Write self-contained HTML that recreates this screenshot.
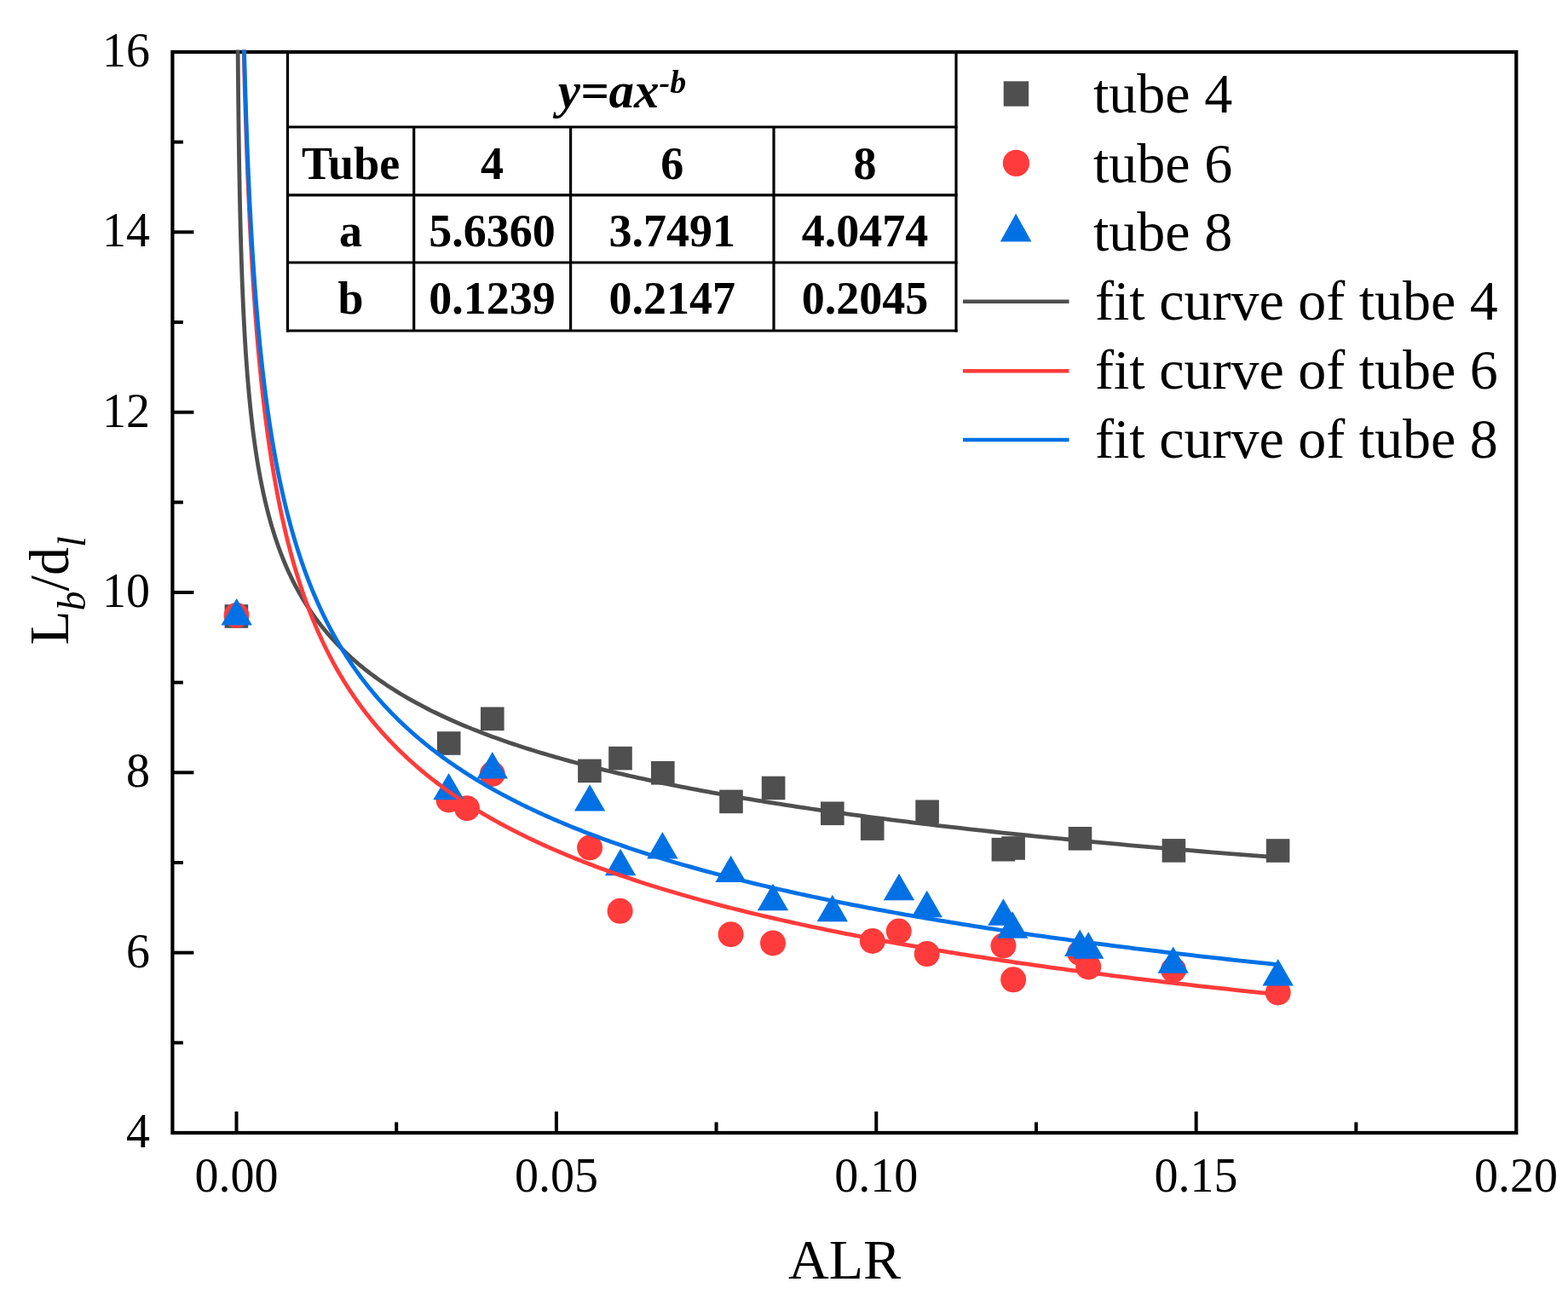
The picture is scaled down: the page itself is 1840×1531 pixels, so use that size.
<!DOCTYPE html>
<html><head><meta charset="utf-8"><title>Lb/dl vs ALR</title>
<style>html,body{margin:0;padding:0;background:#fff;} svg{display:block;}</style>
</head><body>
<svg width="1840" height="1531" viewBox="0 0 1840 1531">
<rect width="1840" height="1531" fill="#fff"/>
<defs><clipPath id="pc"><rect x="202.4" y="61.0" width="1576.9" height="1268.0"/></clipPath><clipPath id="pc2"><rect x="202.4" y="58.6" width="1576.9" height="1270.4"/></clipPath></defs>
<g clip-path="url(#pc)"><rect x="263.60" y="709.20" width="27.60" height="27.60" fill="#4f4f4f"/><rect x="512.90" y="858.20" width="27.60" height="27.60" fill="#4f4f4f"/><rect x="564.00" y="829.50" width="27.60" height="27.60" fill="#4f4f4f"/><rect x="678.10" y="890.60" width="27.60" height="27.60" fill="#4f4f4f"/><rect x="714.20" y="875.80" width="27.60" height="27.60" fill="#4f4f4f"/><rect x="764.00" y="893.00" width="27.60" height="27.60" fill="#4f4f4f"/><rect x="844.20" y="926.60" width="27.60" height="27.60" fill="#4f4f4f"/><rect x="893.80" y="910.70" width="27.60" height="27.60" fill="#4f4f4f"/><rect x="963.00" y="940.50" width="27.60" height="27.60" fill="#4f4f4f"/><rect x="1009.90" y="958.30" width="27.60" height="27.60" fill="#4f4f4f"/><rect x="1074.30" y="938.50" width="27.60" height="27.60" fill="#4f4f4f"/><rect x="1163.60" y="982.90" width="27.60" height="27.60" fill="#4f4f4f"/><rect x="1175.30" y="981.20" width="27.60" height="27.60" fill="#4f4f4f"/><rect x="1253.70" y="970.00" width="27.60" height="27.60" fill="#4f4f4f"/><rect x="1363.60" y="984.10" width="27.60" height="27.60" fill="#4f4f4f"/><rect x="1485.80" y="984.20" width="27.60" height="27.60" fill="#4f4f4f"/><circle cx="277.50" cy="722.00" r="15.00" fill="#ff3b3b"/><circle cx="526.50" cy="938.50" r="15.00" fill="#ff3b3b"/><circle cx="548.00" cy="948.20" r="15.00" fill="#ff3b3b"/><circle cx="577.80" cy="908.00" r="15.00" fill="#ff3b3b"/><circle cx="692.10" cy="994.50" r="15.00" fill="#ff3b3b"/><circle cx="727.60" cy="1068.80" r="15.00" fill="#ff3b3b"/><circle cx="857.60" cy="1096.20" r="15.00" fill="#ff3b3b"/><circle cx="907.00" cy="1106.40" r="15.00" fill="#ff3b3b"/><circle cx="1023.80" cy="1104.00" r="15.00" fill="#ff3b3b"/><circle cx="1054.70" cy="1092.50" r="15.00" fill="#ff3b3b"/><circle cx="1087.70" cy="1119.10" r="15.00" fill="#ff3b3b"/><circle cx="1177.40" cy="1109.50" r="15.00" fill="#ff3b3b"/><circle cx="1189.10" cy="1149.30" r="15.00" fill="#ff3b3b"/><circle cx="1267.20" cy="1118.00" r="15.00" fill="#ff3b3b"/><circle cx="1277.20" cy="1134.40" r="15.00" fill="#ff3b3b"/><circle cx="1377.00" cy="1137.80" r="15.00" fill="#ff3b3b"/><circle cx="1499.70" cy="1164.50" r="15.00" fill="#ff3b3b"/><polygon points="277.70,702.07 295.90,733.47 259.50,733.47" fill="#0071e5"/><polygon points="526.60,906.97 544.80,938.37 508.40,938.37" fill="#0071e5"/><polygon points="577.80,882.07 596.00,913.47 559.60,913.47" fill="#0071e5"/><polygon points="692.10,920.17 710.30,951.57 673.90,951.57" fill="#0071e5"/><polygon points="728.10,995.87 746.30,1027.27 709.90,1027.27" fill="#0071e5"/><polygon points="777.40,976.07 795.60,1007.47 759.20,1007.47" fill="#0071e5"/><polygon points="857.60,1003.67 875.80,1035.07 839.40,1035.07" fill="#0071e5"/><polygon points="907.00,1036.77 925.20,1068.17 888.80,1068.17" fill="#0071e5"/><polygon points="976.80,1049.87 995.00,1081.27 958.60,1081.27" fill="#0071e5"/><polygon points="1055.00,1024.77 1073.20,1056.17 1036.80,1056.17" fill="#0071e5"/><polygon points="1087.70,1044.77 1105.90,1076.17 1069.50,1076.17" fill="#0071e5"/><polygon points="1177.40,1054.27 1195.60,1085.67 1159.20,1085.67" fill="#0071e5"/><polygon points="1188.20,1069.37 1206.40,1100.77 1170.00,1100.77" fill="#0071e5"/><polygon points="1267.20,1090.57 1285.40,1121.97 1249.00,1121.97" fill="#0071e5"/><polygon points="1277.20,1093.37 1295.40,1124.77 1259.00,1124.77" fill="#0071e5"/><polygon points="1376.70,1110.47 1394.90,1141.87 1358.50,1141.87" fill="#0071e5"/><polygon points="1499.70,1125.07 1517.90,1156.47 1481.50,1156.47" fill="#0071e5"/></g>
<g stroke="#000" stroke-width="3.2"><line x1="337.5" y1="61.0" x2="337.5" y2="389.5"/><line x1="1122.0" y1="61.0" x2="1122.0" y2="389.5"/><line x1="336.0" y1="149.0" x2="1123.5" y2="149.0"/><line x1="336.0" y1="228.8" x2="1123.5" y2="228.8"/><line x1="336.0" y1="308.0" x2="1123.5" y2="308.0"/><line x1="336.0" y1="388.0" x2="1123.5" y2="388.0"/><line x1="485.7" y1="149.0" x2="485.7" y2="388.0"/><line x1="669.6" y1="149.0" x2="669.6" y2="388.0"/><line x1="908.0" y1="149.0" x2="908.0" y2="388.0"/></g>
<g font-family="Liberation Serif, serif" font-weight="bold" font-size="54" text-anchor="middle" fill="#000">
<text x="730" y="126" font-style="italic" font-size="59">y=ax<tspan font-size="38" dy="-17">-b</tspan></text>
<text x="411.6" y="209.8">Tube</text>
<text x="577.6" y="209.8">4</text>
<text x="788.8" y="209.8">6</text>
<text x="1015.0" y="209.8">8</text>
<text x="411.6" y="288.5">a</text>
<text x="577.6" y="288.5">5.6360</text>
<text x="788.8" y="288.5">3.7491</text>
<text x="1015.0" y="288.5">4.0474</text>
<text x="411.6" y="368.0">b</text>
<text x="577.6" y="368.0">0.1239</text>
<text x="788.8" y="368.0">0.2147</text>
<text x="1015.0" y="368.0">0.2045</text>
</g>
<rect x="202.4" y="61.0" width="1576.9" height="1268.0" fill="none" stroke="#000" stroke-width="4.2"/>
<g clip-path="url(#pc2)" fill="none" stroke-width="4.8" stroke-linejoin="round">
<path d="M279.12,56.73 L279.14,59.05 L279.16,61.37 L279.17,63.68 L279.19,65.99 L279.21,68.29 L279.23,70.59 L279.25,72.89 L279.27,75.19 L279.29,77.48 L279.31,79.77 L279.33,82.05 L279.35,84.34 L279.37,86.62 L279.39,88.89 L279.41,91.17 L279.43,93.44 L279.45,95.71 L279.48,97.97 L279.50,100.23 L279.52,102.49 L279.54,104.75 L279.56,107.00 L279.59,109.25 L279.61,111.49 L279.63,113.74 L279.66,115.98 L279.68,118.21 L279.71,120.45 L279.73,122.68 L279.76,124.90 L279.78,127.13 L279.81,129.35 L279.83,131.57 L279.86,133.78 L279.88,136.00 L279.91,138.21 L279.94,140.41 L279.96,142.62 L279.99,144.82 L280.02,147.01 L280.05,149.21 L280.08,151.40 L280.10,153.59 L280.13,155.77 L280.16,157.95 L280.19,160.13 L280.22,162.31 L280.25,164.48 L280.28,166.65 L280.31,168.82 L280.34,170.99 L280.38,173.15 L280.41,175.31 L280.44,177.46 L280.47,179.61 L280.51,181.76 L280.54,183.91 L280.57,186.06 L280.61,188.20 L280.64,190.33 L280.68,192.47 L280.71,194.60 L280.75,196.73 L280.78,198.86 L280.82,200.98 L280.86,203.10 L280.89,205.22 L280.93,207.33 L280.97,209.44 L281.01,211.55 L281.05,213.66 L281.09,215.76 L281.13,217.86 L281.17,219.96 L281.21,222.06 L281.25,224.15 L281.29,226.24 L281.33,228.32 L281.38,230.40 L281.42,232.48 L281.46,234.56 L281.51,236.64 L281.55,238.71 L281.60,240.78 L281.64,242.84 L281.69,244.91 L281.73,246.97 L281.78,249.02 L281.83,251.08 L281.88,253.13 L281.92,255.18 L281.97,257.23 L282.02,259.27 L282.07,261.31 L282.12,263.35 L282.18,265.38 L282.23,267.42 L282.28,269.45 L282.33,271.47 L282.39,273.50 L282.44,275.52 L282.50,277.54 L282.55,279.55 L282.61,281.57 L282.66,283.58 L282.72,285.58 L282.78,287.59 L282.84,289.59 L282.90,291.59 L282.96,293.59 L283.02,295.58 L283.08,297.57 L283.14,299.56 L283.20,301.55 L283.27,303.53 L283.33,305.51 L283.40,307.49 L283.46,309.46 L283.53,311.43 L283.59,313.40 L283.66,315.37 L283.73,317.33 L283.80,319.30 L283.87,321.25 L283.94,323.21 L284.01,325.16 L284.08,327.11 L284.16,329.06 L284.23,331.01 L284.31,332.95 L284.38,334.89 L284.46,336.83 L284.54,338.76 L284.61,340.70 L284.69,342.62 L284.77,344.55 L284.85,346.48 L284.94,348.40 L285.02,350.32 L285.10,352.23 L285.19,354.15 L285.27,356.06 L285.36,357.97 L285.44,359.87 L285.53,361.77 L285.62,363.68 L285.71,365.57 L285.80,367.47 L285.90,369.36 L285.99,371.25 L286.08,373.14 L286.18,375.02 L286.27,376.91 L286.37,378.79 L286.47,380.66 L286.57,382.54 L286.67,384.41 L286.77,386.28 L286.88,388.15 L286.98,390.01 L287.09,391.87 L287.19,393.73 L287.30,395.59 L287.41,397.45 L287.52,399.30 L287.63,401.15 L287.74,402.99 L287.86,404.84 L287.97,406.68 L288.09,408.52 L288.20,410.36 L288.32,412.19 L288.44,414.02 L288.57,415.85 L288.69,417.68 L288.81,419.50 L288.94,421.32 L289.06,423.14 L289.19,424.96 L289.32,426.77 L289.45,428.58 L289.59,430.39 L289.72,432.20 L289.86,434.01 L289.99,435.81 L290.13,437.61 L290.27,439.40 L290.42,441.20 L290.56,442.99 L290.70,444.78 L290.85,446.57 L291.00,448.35 L291.15,450.13 L291.30,451.91 L291.45,453.69 L291.61,455.47 L291.77,457.24 L291.92,459.01 L292.08,460.78 L292.25,462.54 L292.41,464.30 L292.57,466.06 L292.74,467.82 L292.91,469.58 L293.08,471.33 L293.26,473.08 L293.43,474.83 L293.61,476.58 L293.79,478.32 L293.97,480.06 L294.15,481.80 L294.34,483.54 L294.52,485.27 L294.71,487.00 L294.90,488.73 L295.10,490.46 L295.29,492.18 L295.49,493.91 L295.69,495.63 L295.89,497.34 L296.09,499.06 L296.30,500.77 L296.51,502.48 L296.72,504.19 L296.93,505.90 L297.15,507.60 L297.37,509.30 L297.59,511.00 L297.81,512.70 L298.04,514.39 L298.27,516.08 L298.50,517.77 L298.73,519.46 L298.97,521.14 L299.20,522.83 L299.45,524.51 L299.69,526.19 L299.94,527.86 L300.18,529.53 L300.44,531.21 L300.69,532.88 L300.95,534.54 L301.21,536.21 L301.47,537.87 L301.74,539.53 L302.01,541.19 L302.28,542.84 L302.56,544.49 L302.83,546.14 L303.11,547.79 L303.40,549.44 L303.69,551.08 L303.98,552.73 L304.27,554.36 L304.57,556.00 L304.87,557.64 L305.17,559.27 L305.48,560.90 L305.79,562.53 L306.11,564.15 L306.42,565.78 L306.74,567.40 L307.07,569.02 L307.40,570.64 L307.73,572.25 L308.07,573.86 L308.40,575.48 L308.75,577.08 L309.10,578.69 L309.45,580.29 L309.80,581.90 L310.16,583.50 L310.52,585.09 L310.89,586.69 L311.26,588.28 L311.63,589.87 L312.01,591.46 L312.40,593.05 L312.78,594.63 L313.18,596.21 L313.57,597.79 L313.97,599.37 L314.38,600.95 L314.79,602.52 L315.20,604.09 L315.62,605.66 L316.04,607.23 L316.47,608.79 L316.90,610.36 L317.34,611.92 L317.78,613.48 L318.23,615.03 L318.68,616.59 L319.14,618.14 L319.60,619.69 L320.07,621.24 L320.54,622.78 L321.02,624.33 L321.51,625.87 L321.99,627.41 L322.49,628.94 L322.99,630.48 L323.49,632.01 L324.00,633.54 L324.52,635.07 L325.04,636.60 L325.57,638.13 L326.11,639.65 L326.64,641.17 L327.19,642.69 L327.74,644.20 L328.30,645.72 L328.86,647.23 L329.44,648.74 L330.01,650.25 L330.60,651.75 L331.18,653.26 L331.78,654.76 L332.38,656.26 L332.99,657.76 L333.61,659.25 L334.23,660.75 L334.86,662.24 L335.50,663.73 L336.14,665.22 L336.80,666.70 L337.45,668.19 L338.12,669.67 L338.79,671.15 L339.47,672.63 L340.16,674.10 L340.86,675.58 L341.56,677.05 L342.27,678.52 L342.99,679.98 L343.72,681.45 L344.45,682.91 L345.20,684.37 L345.95,685.83 L346.71,687.29 L347.48,688.75 L348.26,690.20 L349.04,691.65 L349.84,693.10 L350.64,694.55 L351.45,695.99 L352.27,697.44 L353.10,698.88 L353.94,700.32 L354.79,701.76 L355.65,703.19 L356.52,704.63 L357.40,706.06 L358.28,707.49 L359.18,708.92 L360.09,710.34 L361.00,711.77 L361.93,713.19 L362.87,714.61 L363.82,716.03 L364.78,717.44 L365.75,718.86 L366.73,720.27 L367.72,721.68 L368.72,723.09 L369.73,724.49 L370.76,725.90 L371.79,727.30 L372.84,728.70 L373.90,730.10 L374.97,731.50 L376.05,732.89 L377.14,734.29 L378.25,735.68 L379.37,737.07 L380.50,738.45 L381.64,739.84 L382.80,741.22 L383.97,742.61 L385.15,743.99 L386.35,745.36 L387.56,746.74 L388.78,748.11 L390.02,749.49 L391.27,750.86 L392.53,752.22 L393.81,753.59 L395.10,754.96 L396.40,756.32 L397.72,757.68 L399.06,759.04 L400.41,760.40 L401.77,761.75 L403.15,763.11 L404.55,764.46 L405.96,765.81 L407.39,767.16 L408.83,768.50 L410.29,769.85 L411.76,771.19 L413.25,772.53 L414.76,773.87 L416.29,775.21 L417.83,776.54 L419.39,777.87 L420.96,779.21 L422.55,780.54 L424.17,781.86 L425.79,783.19 L427.44,784.51 L429.11,785.84 L430.79,787.16 L432.49,788.48 L434.21,789.79 L435.95,791.11 L437.71,792.42 L439.49,793.73 L441.29,795.04 L443.11,796.35 L444.95,797.66 L446.81,798.96 L448.69,800.27 L450.59,801.57 L452.51,802.87 L454.46,804.16 L456.42,805.46 L458.41,806.75 L460.42,808.05 L462.45,809.34 L464.50,810.62 L466.58,811.91 L468.68,813.20 L470.80,814.48 L472.95,815.76 L475.12,817.04 L477.32,818.32 L479.53,819.60 L481.78,820.87 L484.05,822.14 L486.34,823.41 L488.66,824.68 L491.00,825.95 L493.38,827.22 L495.77,828.48 L498.20,829.74 L500.65,831.00 L503.13,832.26 L505.63,833.52 L508.17,834.78 L510.73,836.03 L513.32,837.28 L515.94,838.53 L518.58,839.78 L521.26,841.03 L523.97,842.27 L526.71,843.52 L529.47,844.76 L532.27,846.00 L535.10,847.24 L537.96,848.47 L540.85,849.71 L543.78,850.94 L546.74,852.17 L549.73,853.40 L552.75,854.63 L555.81,855.86 L558.90,857.08 L562.02,858.31 L565.18,859.53 L568.38,860.75 L571.61,861.97 L574.87,863.18 L578.18,864.40 L581.51,865.61 L584.89,866.82 L588.30,868.03 L591.76,869.24 L595.25,870.45 L598.78,871.65 L602.34,872.86 L605.95,874.06 L609.60,875.26 L613.29,876.46 L617.02,877.66 L620.79,878.85 L624.60,880.04 L628.45,881.24 L632.35,882.43 L636.29,883.61 L640.28,884.80 L644.30,885.99 L648.38,887.17 L652.50,888.35 L656.66,889.53 L660.87,890.71 L665.13,891.89 L669.43,893.07 L673.79,894.24 L678.19,895.41 L682.64,896.58 L687.14,897.75 L691.69,898.92 L696.29,900.09 L700.94,901.25 L705.64,902.41 L710.39,903.58 L715.20,904.73 L720.06,905.89 L724.98,907.05 L729.95,908.20 L734.97,909.36 L740.05,910.51 L745.19,911.66 L750.38,912.81 L755.63,913.96 L760.94,915.10 L766.31,916.25 L771.74,917.39 L777.23,918.53 L782.78,919.67 L788.39,920.81 L794.06,921.94 L799.80,923.08 L805.60,924.21 L811.47,925.34 L817.40,926.47 L823.39,927.60 L829.45,928.73 L835.58,929.85 L841.78,930.98 L848.05,932.10 L854.39,933.22 L860.79,934.34 L867.27,935.46 L873.82,936.57 L880.44,937.69 L887.14,938.80 L893.91,939.91 L900.75,941.02 L907.68,942.13 L914.67,943.24 L921.75,944.34 L928.90,945.45 L936.14,946.55 L943.45,947.65 L950.85,948.75 L958.33,949.85 L965.89,950.94 L973.53,952.04 L981.26,953.13 L989.08,954.22 L996.98,955.31 L1004.97,956.40 L1013.05,957.49 L1021.22,958.58 L1029.48,959.66 L1037.83,960.74 L1046.27,961.83 L1054.81,962.91 L1063.44,963.98 L1072.17,965.06 L1081.00,966.14 L1089.92,967.21 L1098.94,968.28 L1108.06,969.36 L1117.29,970.43 L1126.61,971.49 L1136.04,972.56 L1145.58,973.63 L1155.22,974.69 L1164.97,975.75 L1174.82,976.81 L1184.79,977.87 L1194.86,978.93 L1205.05,979.99 L1215.35,981.04 L1225.77,982.10 L1236.30,983.15 L1246.95,984.20 L1257.71,985.25 L1268.60,986.30 L1279.60,987.34 L1290.73,988.39 L1301.98,989.43 L1313.36,990.48 L1324.87,991.52 L1336.50,992.56 L1348.26,993.59 L1360.15,994.63 L1372.17,995.67 L1384.33,996.70 L1396.62,997.73 L1409.05,998.76 L1421.62,999.79 L1434.32,1000.82 L1447.17,1001.85 L1460.16,1002.87 L1473.29,1003.90 L1486.57,1004.92 L1500.00,1005.94" stroke="#4f4f4f"/>
<path d="M286.11,56.73 L286.19,59.74 L286.26,62.73 L286.33,65.73 L286.40,68.71 L286.48,71.69 L286.55,74.67 L286.63,77.64 L286.70,80.61 L286.78,83.57 L286.86,86.52 L286.93,89.47 L287.01,92.42 L287.09,95.36 L287.17,98.29 L287.25,101.22 L287.33,104.14 L287.41,107.06 L287.50,109.98 L287.58,112.88 L287.66,115.79 L287.75,118.69 L287.83,121.58 L287.92,124.47 L288.00,127.35 L288.09,130.23 L288.18,133.10 L288.27,135.97 L288.36,138.83 L288.45,141.69 L288.54,144.54 L288.63,147.39 L288.72,150.23 L288.81,153.06 L288.91,155.90 L289.00,158.72 L289.10,161.55 L289.19,164.36 L289.29,167.18 L289.39,169.98 L289.49,172.78 L289.59,175.58 L289.69,178.37 L289.79,181.16 L289.89,183.94 L289.99,186.72 L290.10,189.49 L290.20,192.26 L290.31,195.02 L290.41,197.78 L290.52,200.53 L290.63,203.28 L290.74,206.02 L290.85,208.76 L290.96,211.50 L291.07,214.22 L291.18,216.95 L291.29,219.67 L291.41,222.38 L291.52,225.09 L291.64,227.80 L291.76,230.49 L291.87,233.19 L291.99,235.88 L292.11,238.57 L292.24,241.25 L292.36,243.92 L292.48,246.59 L292.61,249.26 L292.73,251.92 L292.86,254.58 L292.98,257.23 L293.11,259.88 L293.24,262.52 L293.37,265.16 L293.50,267.79 L293.64,270.42 L293.77,273.04 L293.91,275.66 L294.04,278.28 L294.18,280.89 L294.32,283.50 L294.46,286.10 L294.60,288.69 L294.74,291.28 L294.88,293.87 L295.03,296.45 L295.17,299.03 L295.32,301.61 L295.47,304.17 L295.61,306.74 L295.76,309.30 L295.92,311.85 L296.07,314.40 L296.22,316.95 L296.38,319.49 L296.53,322.03 L296.69,324.56 L296.85,327.09 L297.01,329.61 L297.17,332.13 L297.34,334.65 L297.50,337.16 L297.67,339.67 L297.83,342.17 L298.00,344.66 L298.17,347.16 L298.35,349.64 L298.52,352.13 L298.69,354.61 L298.87,357.08 L299.05,359.55 L299.22,362.02 L299.40,364.48 L299.59,366.94 L299.77,369.39 L299.95,371.84 L300.14,374.29 L300.33,376.73 L300.52,379.16 L300.71,381.59 L300.90,384.02 L301.09,386.44 L301.29,388.86 L301.49,391.28 L301.69,393.69 L301.89,396.09 L302.09,398.49 L302.29,400.89 L302.50,403.28 L302.71,405.67 L302.91,408.06 L303.13,410.44 L303.34,412.81 L303.55,415.19 L303.77,417.55 L303.99,419.92 L304.21,422.28 L304.43,424.63 L304.65,426.98 L304.88,429.33 L305.10,431.67 L305.33,434.01 L305.56,436.34 L305.80,438.67 L306.03,441.00 L306.27,443.32 L306.50,445.64 L306.75,447.95 L306.99,450.26 L307.23,452.57 L307.48,454.87 L307.73,457.17 L307.98,459.46 L308.23,461.75 L308.49,464.04 L308.74,466.32 L309.00,468.59 L309.26,470.87 L309.53,473.14 L309.79,475.40 L310.06,477.66 L310.33,479.92 L310.60,482.17 L310.88,484.42 L311.15,486.67 L311.43,488.91 L311.71,491.14 L312.00,493.38 L312.28,495.61 L312.57,497.83 L312.86,500.05 L313.16,502.27 L313.45,504.48 L313.75,506.69 L314.05,508.90 L314.35,511.10 L314.66,513.30 L314.97,515.49 L315.28,517.68 L315.59,519.87 L315.91,522.05 L316.23,524.23 L316.55,526.40 L316.87,528.57 L317.20,530.74 L317.53,532.90 L317.86,535.06 L318.19,537.22 L318.53,539.37 L318.87,541.52 L319.21,543.66 L319.56,545.80 L319.91,547.94 L320.26,550.07 L320.62,552.20 L320.97,554.32 L321.33,556.45 L321.70,558.56 L322.06,560.68 L322.43,562.79 L322.81,564.89 L323.18,567.00 L323.56,569.09 L323.94,571.19 L324.33,573.28 L324.72,575.37 L325.11,577.45 L325.50,579.53 L325.90,581.61 L326.30,583.68 L326.71,585.75 L327.11,587.82 L327.53,589.88 L327.94,591.94 L328.36,593.99 L328.78,596.04 L329.21,598.09 L329.63,600.13 L330.07,602.17 L330.50,604.21 L330.94,606.24 L331.39,608.27 L331.83,610.30 L332.28,612.32 L332.74,614.34 L333.20,616.35 L333.66,618.36 L334.12,620.37 L334.59,622.38 L335.07,624.38 L335.54,626.37 L336.02,628.37 L336.51,630.36 L337.00,632.34 L337.49,634.33 L337.99,636.31 L338.49,638.28 L339.00,640.25 L339.51,642.22 L340.02,644.19 L340.54,646.15 L341.06,648.11 L341.59,650.06 L342.12,652.02 L342.66,653.96 L343.20,655.91 L343.74,657.85 L344.29,659.79 L344.85,661.72 L345.40,663.65 L345.97,665.58 L346.54,667.50 L347.11,669.43 L347.69,671.34 L348.27,673.26 L348.85,675.17 L349.45,677.07 L350.04,678.98 L350.64,680.88 L351.25,682.78 L351.86,684.67 L352.48,686.56 L353.10,688.45 L353.73,690.33 L354.36,692.21 L355.00,694.09 L355.64,695.96 L356.29,697.83 L356.94,699.70 L357.60,701.56 L358.26,703.42 L358.93,705.28 L359.61,707.13 L360.29,708.98 L360.98,710.83 L361.67,712.67 L362.37,714.52 L363.07,716.35 L363.78,718.19 L364.50,720.02 L365.22,721.85 L365.95,723.67 L366.68,725.49 L367.42,727.31 L368.16,729.12 L368.92,730.94 L369.67,732.74 L370.44,734.55 L371.21,736.35 L371.99,738.15 L372.77,739.94 L373.56,741.74 L374.36,743.53 L375.16,745.31 L375.97,747.10 L376.79,748.87 L377.61,750.65 L378.44,752.42 L379.28,754.20 L380.12,755.96 L380.97,757.73 L381.83,759.49 L382.70,761.24 L383.57,763.00 L384.45,764.75 L385.33,766.50 L386.23,768.24 L387.13,769.99 L388.04,771.73 L388.96,773.46 L389.88,775.20 L390.81,776.92 L391.75,778.65 L392.70,780.38 L393.65,782.10 L394.62,783.81 L395.59,785.53 L396.57,787.24 L397.56,788.95 L398.55,790.65 L399.56,792.36 L400.57,794.06 L401.59,795.75 L402.62,797.45 L403.66,799.14 L404.70,800.82 L405.76,802.51 L406.82,804.19 L407.89,805.87 L408.97,807.54 L410.06,809.22 L411.16,810.89 L412.27,812.55 L413.39,814.22 L414.52,815.88 L415.65,817.54 L416.80,819.19 L417.95,820.84 L419.12,822.49 L420.29,824.14 L421.48,825.78 L422.67,827.42 L423.87,829.06 L425.09,830.69 L426.31,832.32 L427.55,833.95 L428.79,835.58 L430.05,837.20 L431.31,838.82 L432.59,840.44 L433.87,842.05 L435.17,843.67 L436.48,845.27 L437.79,846.88 L439.12,848.48 L440.46,850.08 L441.82,851.68 L443.18,853.27 L444.55,854.87 L445.94,856.45 L447.33,858.04 L448.74,859.62 L450.16,861.20 L451.59,862.78 L453.04,864.36 L454.49,865.93 L455.96,867.50 L457.44,869.06 L458.93,870.63 L460.44,872.19 L461.96,873.75 L463.49,875.30 L465.03,876.85 L466.58,878.40 L468.15,879.95 L469.73,881.50 L471.33,883.04 L472.93,884.58 L474.55,886.11 L476.19,887.65 L477.84,889.18 L479.50,890.70 L481.17,892.23 L482.86,893.75 L484.57,895.27 L486.28,896.79 L488.01,898.30 L489.76,899.82 L491.52,901.32 L493.29,902.83 L495.08,904.33 L496.89,905.84 L498.71,907.33 L500.54,908.83 L502.39,910.32 L504.26,911.81 L506.14,913.30 L508.03,914.79 L509.95,916.27 L511.87,917.75 L513.82,919.23 L515.78,920.70 L517.75,922.17 L519.74,923.64 L521.75,925.11 L523.78,926.57 L525.82,928.04 L527.88,929.50 L529.96,930.95 L532.05,932.41 L534.16,933.86 L536.29,935.31 L538.44,936.75 L540.60,938.20 L542.78,939.64 L544.98,941.08 L547.20,942.51 L549.44,943.95 L551.69,945.38 L553.97,946.81 L556.26,948.23 L558.57,949.65 L560.90,951.08 L563.25,952.49 L565.62,953.91 L568.01,955.32 L570.42,956.73 L572.85,958.14 L575.30,959.55 L577.77,960.95 L580.26,962.35 L582.77,963.75 L585.30,965.15 L587.85,966.54 L590.43,967.93 L593.02,969.32 L595.64,970.70 L598.28,972.09 L600.94,973.47 L603.62,974.85 L606.32,976.22 L609.05,977.60 L611.80,978.97 L614.57,980.34 L617.37,981.70 L620.19,983.07 L623.03,984.43 L625.89,985.79 L628.78,987.15 L631.70,988.50 L634.63,989.85 L637.59,991.20 L640.58,992.55 L643.59,993.89 L646.63,995.24 L649.69,996.58 L652.78,997.92 L655.89,999.25 L659.03,1000.58 L662.19,1001.91 L665.38,1003.24 L668.60,1004.57 L671.84,1005.89 L675.11,1007.21 L678.41,1008.53 L681.73,1009.85 L685.08,1011.16 L688.46,1012.47 L691.87,1013.78 L695.31,1015.09 L698.77,1016.40 L702.27,1017.70 L705.79,1019.00 L709.34,1020.30 L712.92,1021.59 L716.53,1022.89 L720.17,1024.18 L723.84,1025.47 L727.55,1026.75 L731.28,1028.04 L735.04,1029.32 L738.84,1030.60 L742.66,1031.88 L746.52,1033.15 L750.41,1034.42 L754.33,1035.69 L758.29,1036.96 L762.27,1038.23 L766.29,1039.49 L770.35,1040.76 L774.43,1042.01 L778.55,1043.27 L782.71,1044.53 L786.90,1045.78 L791.12,1047.03 L795.38,1048.28 L799.68,1049.52 L804.01,1050.77 L808.37,1052.01 L812.78,1053.25 L817.22,1054.49 L821.69,1055.72 L826.20,1056.96 L830.75,1058.19 L835.34,1059.41 L839.97,1060.64 L844.63,1061.87 L849.34,1063.09 L854.08,1064.31 L858.86,1065.52 L863.68,1066.74 L868.54,1067.95 L873.44,1069.16 L878.39,1070.37 L883.37,1071.58 L888.39,1072.79 L893.46,1073.99 L898.57,1075.19 L903.72,1076.39 L908.91,1077.58 L914.15,1078.78 L919.43,1079.97 L924.75,1081.16 L930.12,1082.35 L935.53,1083.53 L940.99,1084.72 L946.49,1085.90 L952.04,1087.08 L957.63,1088.26 L963.27,1089.43 L968.96,1090.60 L974.69,1091.78 L980.47,1092.94 L986.30,1094.11 L992.18,1095.28 L998.11,1096.44 L1004.08,1097.60 L1010.11,1098.76 L1016.19,1099.92 L1022.31,1101.07 L1028.49,1102.22 L1034.72,1103.37 L1041.00,1104.52 L1047.33,1105.67 L1053.71,1106.81 L1060.15,1107.96 L1066.64,1109.10 L1073.18,1110.23 L1079.78,1111.37 L1086.43,1112.50 L1093.14,1113.64 L1099.91,1114.77 L1106.73,1115.90 L1113.60,1117.02 L1120.54,1118.15 L1127.53,1119.27 L1134.58,1120.39 L1141.69,1121.51 L1148.85,1122.62 L1156.08,1123.74 L1163.36,1124.85 L1170.71,1125.96 L1178.12,1127.07 L1185.59,1128.18 L1193.12,1129.28 L1200.71,1130.38 L1208.37,1131.48 L1216.09,1132.58 L1223.87,1133.68 L1231.72,1134.77 L1239.63,1135.87 L1247.61,1136.96 L1255.66,1138.05 L1263.77,1139.13 L1271.95,1140.22 L1280.19,1141.30 L1288.51,1142.38 L1296.89,1143.46 L1305.35,1144.54 L1313.87,1145.62 L1322.46,1146.69 L1331.13,1147.76 L1339.87,1148.83 L1348.68,1149.90 L1357.56,1150.97 L1366.52,1152.03 L1375.55,1153.09 L1384.65,1154.15 L1393.84,1155.21 L1403.09,1156.27 L1412.43,1157.32 L1421.84,1158.38 L1431.33,1159.43 L1440.90,1160.48 L1450.55,1161.52 L1460.27,1162.57 L1470.08,1163.61 L1479.97,1164.65 L1489.95,1165.69 L1500.00,1166.73" stroke="#ff3b3b"/>
<path d="M286.44,56.73 L286.51,59.57 L286.58,62.41 L286.66,65.24 L286.73,68.06 L286.81,70.88 L286.89,73.70 L286.96,76.51 L287.04,79.31 L287.12,82.11 L287.20,84.91 L287.28,87.70 L287.36,90.49 L287.44,93.27 L287.52,96.05 L287.61,98.82 L287.69,101.59 L287.77,104.36 L287.86,107.11 L287.94,109.87 L288.03,112.62 L288.12,115.36 L288.20,118.11 L288.29,120.84 L288.38,123.57 L288.47,126.30 L288.56,129.02 L288.65,131.74 L288.74,134.45 L288.83,137.16 L288.93,139.87 L289.02,142.57 L289.12,145.26 L289.21,147.95 L289.31,150.64 L289.41,153.32 L289.50,156.00 L289.60,158.67 L289.70,161.34 L289.80,164.00 L289.90,166.66 L290.01,169.32 L290.11,171.97 L290.21,174.61 L290.32,177.26 L290.42,179.89 L290.53,182.53 L290.64,185.15 L290.74,187.78 L290.85,190.40 L290.96,193.01 L291.07,195.62 L291.19,198.23 L291.30,200.83 L291.41,203.43 L291.53,206.02 L291.64,208.61 L291.76,211.20 L291.88,213.78 L291.99,216.35 L292.11,218.92 L292.23,221.49 L292.36,224.05 L292.48,226.61 L292.60,229.17 L292.73,231.72 L292.85,234.26 L292.98,236.81 L293.10,239.34 L293.23,241.88 L293.36,244.41 L293.49,246.93 L293.62,249.45 L293.76,251.97 L293.89,254.48 L294.03,256.99 L294.16,259.49 L294.30,261.99 L294.44,264.48 L294.58,266.98 L294.72,269.46 L294.86,271.95 L295.00,274.42 L295.15,276.90 L295.29,279.37 L295.44,281.83 L295.59,284.30 L295.73,286.75 L295.88,289.21 L296.04,291.66 L296.19,294.10 L296.34,296.54 L296.50,298.98 L296.65,301.42 L296.81,303.84 L296.97,306.27 L297.13,308.69 L297.29,311.11 L297.46,313.52 L297.62,315.93 L297.78,318.33 L297.95,320.74 L298.12,323.13 L298.29,325.52 L298.46,327.91 L298.63,330.30 L298.81,332.68 L298.98,335.06 L299.16,337.43 L299.34,339.80 L299.52,342.16 L299.70,344.52 L299.88,346.88 L300.07,349.23 L300.25,351.58 L300.44,353.93 L300.63,356.27 L300.82,358.61 L301.01,360.94 L301.20,363.27 L301.40,365.59 L301.60,367.92 L301.79,370.23 L301.99,372.55 L302.20,374.86 L302.40,377.16 L302.60,379.47 L302.81,381.77 L303.02,384.06 L303.23,386.35 L303.44,388.64 L303.65,390.92 L303.87,393.20 L304.09,395.48 L304.31,397.75 L304.53,400.01 L304.75,402.28 L304.97,404.54 L305.20,406.80 L305.43,409.05 L305.66,411.30 L305.89,413.54 L306.12,415.78 L306.36,418.02 L306.60,420.25 L306.83,422.49 L307.08,424.71 L307.32,426.93 L307.56,429.15 L307.81,431.37 L308.06,433.58 L308.31,435.79 L308.57,437.99 L308.82,440.19 L309.08,442.39 L309.34,444.58 L309.60,446.77 L309.87,448.96 L310.13,451.14 L310.40,453.32 L310.67,455.49 L310.95,457.66 L311.22,459.83 L311.50,461.99 L311.78,464.15 L312.06,466.31 L312.35,468.46 L312.63,470.61 L312.92,472.76 L313.21,474.90 L313.51,477.04 L313.80,479.18 L314.10,481.31 L314.40,483.43 L314.71,485.56 L315.01,487.68 L315.32,489.80 L315.63,491.91 L315.95,494.02 L316.26,496.13 L316.58,498.23 L316.90,500.33 L317.23,502.43 L317.56,504.52 L317.89,506.61 L318.22,508.69 L318.55,510.77 L318.89,512.85 L319.23,514.93 L319.58,517.00 L319.92,519.07 L320.27,521.13 L320.62,523.19 L320.98,525.25 L321.34,527.31 L321.70,529.36 L322.06,531.40 L322.43,533.45 L322.80,535.49 L323.17,537.53 L323.55,539.56 L323.92,541.59 L324.31,543.62 L324.69,545.64 L325.08,547.66 L325.47,549.68 L325.87,551.69 L326.27,553.70 L326.67,555.71 L327.07,557.71 L327.48,559.71 L327.89,561.71 L328.31,563.70 L328.72,565.69 L329.15,567.68 L329.57,569.66 L330.00,571.64 L330.43,573.62 L330.87,575.59 L331.31,577.56 L331.75,579.53 L332.20,581.49 L332.65,583.45 L333.10,585.41 L333.56,587.36 L334.02,589.31 L334.48,591.26 L334.95,593.20 L335.43,595.14 L335.90,597.08 L336.38,599.01 L336.87,600.94 L337.36,602.87 L337.85,604.79 L338.35,606.72 L338.85,608.63 L339.35,610.55 L339.86,612.46 L340.37,614.37 L340.89,616.27 L341.41,618.17 L341.94,620.07 L342.47,621.97 L343.01,623.86 L343.54,625.75 L344.09,627.64 L344.64,629.52 L345.19,631.40 L345.75,633.27 L346.31,635.15 L346.87,637.02 L347.44,638.88 L348.02,640.75 L348.60,642.61 L349.19,644.47 L349.78,646.32 L350.37,648.17 L350.97,650.02 L351.58,651.87 L352.19,653.71 L352.80,655.55 L353.42,657.38 L354.05,659.22 L354.68,661.05 L355.31,662.87 L355.95,664.70 L356.60,666.52 L357.25,668.34 L357.90,670.15 L358.57,671.96 L359.23,673.77 L359.91,675.58 L360.58,677.38 L361.27,679.18 L361.96,680.97 L362.65,682.77 L363.35,684.56 L364.06,686.35 L364.77,688.13 L365.49,689.91 L366.22,691.69 L366.95,693.47 L367.68,695.24 L368.42,697.01 L369.17,698.77 L369.93,700.54 L370.69,702.30 L371.46,704.06 L372.23,705.81 L373.01,707.56 L373.79,709.31 L374.59,711.06 L375.39,712.80 L376.19,714.54 L377.00,716.28 L377.82,718.01 L378.65,719.74 L379.48,721.47 L380.32,723.20 L381.17,724.92 L382.02,726.64 L382.88,728.36 L383.75,730.07 L384.62,731.78 L385.51,733.49 L386.39,735.20 L387.29,736.90 L388.19,738.60 L389.11,740.30 L390.02,741.99 L390.95,743.68 L391.88,745.37 L392.83,747.05 L393.77,748.74 L394.73,750.42 L395.70,752.09 L396.67,753.77 L397.65,755.44 L398.64,757.11 L399.64,758.77 L400.64,760.44 L401.66,762.10 L402.68,763.76 L403.71,765.41 L404.75,767.06 L405.79,768.71 L406.85,770.36 L407.91,772.00 L408.99,773.64 L410.07,775.28 L411.16,776.92 L412.26,778.55 L413.37,780.18 L414.49,781.81 L415.62,783.43 L416.75,785.05 L417.90,786.67 L419.06,788.29 L420.22,789.90 L421.40,791.51 L422.58,793.12 L423.77,794.73 L424.98,796.33 L426.19,797.93 L427.42,799.53 L428.65,801.12 L429.89,802.71 L431.15,804.30 L432.41,805.89 L433.69,807.48 L434.97,809.06 L436.27,810.64 L437.58,812.21 L438.90,813.79 L440.22,815.36 L441.56,816.92 L442.91,818.49 L444.28,820.05 L445.65,821.61 L447.03,823.17 L448.43,824.73 L449.83,826.28 L451.25,827.83 L452.68,829.38 L454.13,830.92 L455.58,832.46 L457.04,834.00 L458.52,835.54 L460.01,837.08 L461.52,838.61 L463.03,840.14 L464.56,841.66 L466.10,843.19 L467.65,844.71 L469.21,846.23 L470.79,847.75 L472.38,849.26 L473.99,850.77 L475.60,852.28 L477.24,853.79 L478.88,855.29 L480.54,856.79 L482.21,858.29 L483.89,859.79 L485.59,861.28 L487.31,862.77 L489.03,864.26 L490.77,865.75 L492.53,867.23 L494.30,868.71 L496.08,870.19 L497.88,871.67 L499.70,873.14 L501.53,874.61 L503.37,876.08 L505.23,877.55 L507.10,879.01 L508.99,880.48 L510.90,881.94 L512.82,883.39 L514.76,884.85 L516.71,886.30 L518.68,887.75 L520.66,889.20 L522.67,890.64 L524.68,892.08 L526.72,893.52 L528.77,894.96 L530.84,896.39 L532.92,897.83 L535.03,899.26 L537.15,900.68 L539.28,902.11 L541.44,903.53 L543.61,904.95 L545.80,906.37 L548.01,907.79 L550.24,909.20 L552.48,910.61 L554.74,912.02 L557.03,913.43 L559.33,914.83 L561.65,916.23 L563.99,917.63 L566.34,919.03 L568.72,920.42 L571.12,921.82 L573.53,923.21 L575.97,924.59 L578.43,925.98 L580.91,927.36 L583.40,928.74 L585.92,930.12 L588.46,931.50 L591.02,932.87 L593.60,934.24 L596.20,935.61 L598.82,936.98 L601.47,938.34 L604.14,939.71 L606.82,941.07 L609.54,942.42 L612.27,943.78 L615.02,945.13 L617.80,946.48 L620.60,947.83 L623.43,949.18 L626.28,950.52 L629.15,951.87 L632.04,953.21 L634.96,954.54 L637.90,955.88 L640.87,957.21 L643.86,958.54 L646.87,959.87 L649.91,961.20 L652.98,962.52 L656.07,963.84 L659.19,965.16 L662.33,966.48 L665.50,967.79 L668.69,969.11 L671.91,970.42 L675.16,971.73 L678.43,973.03 L681.73,974.34 L685.06,975.64 L688.41,976.94 L691.79,978.24 L695.20,979.53 L698.64,980.83 L702.11,982.12 L705.60,983.41 L709.13,984.69 L712.68,985.98 L716.26,987.26 L719.87,988.54 L723.52,989.82 L727.19,991.10 L730.89,992.37 L734.62,993.64 L738.38,994.91 L742.18,996.18 L746.00,997.44 L749.86,998.71 L753.75,999.97 L757.67,1001.23 L761.62,1002.48 L765.60,1003.74 L769.62,1004.99 L773.67,1006.24 L777.76,1007.49 L781.87,1008.74 L786.03,1009.98 L790.21,1011.22 L794.43,1012.46 L798.69,1013.70 L802.98,1014.94 L807.30,1016.17 L811.66,1017.41 L816.06,1018.64 L820.49,1019.86 L824.96,1021.09 L829.47,1022.31 L834.01,1023.53 L838.59,1024.75 L843.21,1025.97 L847.87,1027.19 L852.56,1028.40 L857.30,1029.61 L862.07,1030.82 L866.88,1032.03 L871.73,1033.23 L876.62,1034.44 L881.55,1035.64 L886.53,1036.84 L891.54,1038.04 L896.59,1039.23 L901.69,1040.42 L906.83,1041.62 L912.01,1042.81 L917.23,1043.99 L922.50,1045.18 L927.81,1046.36 L933.16,1047.54 L938.55,1048.72 L944.00,1049.90 L949.48,1051.08 L955.01,1052.25 L960.59,1053.42 L966.21,1054.59 L971.88,1055.76 L977.60,1056.92 L983.36,1058.09 L989.17,1059.25 L995.03,1060.41 L1000.93,1061.57 L1006.89,1062.72 L1012.89,1063.88 L1018.95,1065.03 L1025.05,1066.18 L1031.20,1067.33 L1037.41,1068.47 L1043.66,1069.62 L1049.97,1070.76 L1056.33,1071.90 L1062.74,1073.04 L1069.20,1074.18 L1075.72,1075.31 L1082.29,1076.44 L1088.91,1077.57 L1095.59,1078.70 L1102.32,1079.83 L1109.11,1080.96 L1115.96,1082.08 L1122.86,1083.20 L1129.82,1084.32 L1136.83,1085.44 L1143.91,1086.55 L1151.04,1087.67 L1158.23,1088.78 L1165.48,1089.89 L1172.79,1091.00 L1180.16,1092.11 L1187.59,1093.21 L1195.08,1094.31 L1202.63,1095.42 L1210.25,1096.51 L1217.92,1097.61 L1225.67,1098.71 L1233.47,1099.80 L1241.34,1100.89 L1249.27,1101.98 L1257.27,1103.07 L1265.34,1104.16 L1273.47,1105.24 L1281.67,1106.33 L1289.93,1107.41 L1298.26,1108.49 L1306.67,1109.56 L1315.14,1110.64 L1323.68,1111.71 L1332.29,1112.78 L1340.97,1113.85 L1349.73,1114.92 L1358.55,1115.99 L1367.45,1117.05 L1376.42,1118.12 L1385.47,1119.18 L1394.59,1120.24 L1403.78,1121.29 L1413.05,1122.35 L1422.40,1123.40 L1431.82,1124.46 L1441.33,1125.51 L1450.91,1126.56 L1460.56,1127.60 L1470.30,1128.65 L1480.12,1129.69 L1490.02,1130.73 L1500.00,1131.77" stroke="#0071e5"/>
</g>
<g stroke="#000" stroke-width="4"><line x1="202.4" y1="1223.33" x2="214.90" y2="1223.33"/><line x1="202.4" y1="1117.66" x2="227.40" y2="1117.66"/><line x1="202.4" y1="1011.99" x2="214.90" y2="1011.99"/><line x1="202.4" y1="906.32" x2="227.40" y2="906.32"/><line x1="202.4" y1="800.65" x2="214.90" y2="800.65"/><line x1="202.4" y1="694.98" x2="227.40" y2="694.98"/><line x1="202.4" y1="589.31" x2="214.90" y2="589.31"/><line x1="202.4" y1="483.64" x2="227.40" y2="483.64"/><line x1="202.4" y1="377.97" x2="214.90" y2="377.97"/><line x1="202.4" y1="272.30" x2="227.40" y2="272.30"/><line x1="202.4" y1="166.63" x2="214.90" y2="166.63"/><line x1="277.50" y1="1329.0" x2="277.50" y2="1304.00"/><line x1="465.19" y1="1329.0" x2="465.19" y2="1316.50"/><line x1="652.88" y1="1329.0" x2="652.88" y2="1304.00"/><line x1="840.57" y1="1329.0" x2="840.57" y2="1316.50"/><line x1="1028.26" y1="1329.0" x2="1028.26" y2="1304.00"/><line x1="1215.95" y1="1329.0" x2="1215.95" y2="1316.50"/><line x1="1403.64" y1="1329.0" x2="1403.64" y2="1304.00"/><line x1="1591.33" y1="1329.0" x2="1591.33" y2="1316.50"/></g>
<g font-family="Liberation Serif, serif" font-size="56" fill="#000">
<text x="176" y="1346.0" text-anchor="end">4</text>
<text x="176" y="1134.7" text-anchor="end">6</text>
<text x="176" y="923.3" text-anchor="end">8</text>
<text x="176" y="712.0" text-anchor="end">10</text>
<text x="176" y="500.6" text-anchor="end">12</text>
<text x="176" y="289.3" text-anchor="end">14</text>
<text x="176" y="78.0" text-anchor="end">16</text>
<text x="277.5" y="1398" text-anchor="middle">0.00</text>
<text x="652.9" y="1398" text-anchor="middle">0.05</text>
<text x="1028.3" y="1398" text-anchor="middle">0.10</text>
<text x="1403.6" y="1398" text-anchor="middle">0.15</text>
<text x="1779.0" y="1398" text-anchor="middle">0.20</text>
</g>
<g font-family="Liberation Serif, serif" font-size="66" fill="#000">
<text x="991" y="1500" text-anchor="middle">ALR</text>
<text transform="translate(80,693) rotate(-90)" text-anchor="middle">L<tspan font-size="46" font-style="italic" dy="20">b</tspan><tspan dy="-20">/d</tspan><tspan font-size="46" font-style="italic" dy="20">l</tspan></text>
</g>
<rect x="1177.70" y="95.30" width="29.40" height="29.40" fill="#4f4f4f"/><circle cx="1192.40" cy="191.40" r="15.60" fill="#ff3b3b"/><polygon points="1192.10,250.60 1210.40,283.60 1173.80,283.60" fill="#0071e5"/><line x1="1130" y1="353.8" x2="1254.5" y2="353.8" stroke="#4f4f4f" stroke-width="4.4"/><line x1="1130" y1="435.2" x2="1254.5" y2="435.2" stroke="#ff3b3b" stroke-width="4.4"/><line x1="1130" y1="516.0" x2="1254.5" y2="516.0" stroke="#0071e5" stroke-width="4.4"/>
<g font-family="Liberation Serif, serif" font-size="66" fill="#000">
<text x="1283" y="132.2">tube 4</text>
<text x="1283" y="213.8">tube 6</text>
<text x="1283" y="294.0">tube 8</text>
<text x="1285" y="375.3">fit curve of tube 4</text>
<text x="1285" y="456.0">fit curve of tube 6</text>
<text x="1285" y="536.7">fit curve of tube 8</text>
</g>
</svg>
</body></html>
